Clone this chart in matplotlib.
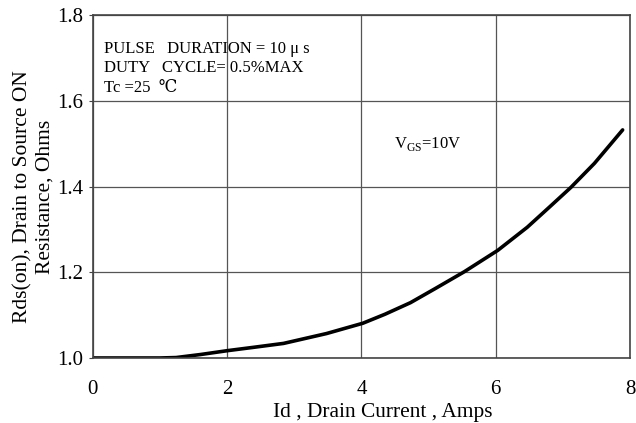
import numpy as np
import matplotlib
matplotlib.use('Agg')
import matplotlib.pyplot as plt

plt.rcParams['font.family'] = ['Liberation Serif', 'DejaVu Serif']

# values
id_amps = [0.0, 0.5, 1.0, 1.24, 1.6, 2.0, 2.4, 2.84, 3.48, 4.02, 4.35, 4.73, 5.1, 5.53,
           6.03, 6.47, 6.8, 7.12, 7.47, 7.89]
rds_on = [1.0, 1.0, 1.0, 1.001, 1.008, 1.017, 1.025, 1.034, 1.057, 1.081, 1.102, 1.129, 1.162, 1.201,
          1.251, 1.305, 1.352, 1.398, 1.454, 1.532]
x_ticks = [0, 2, 4, 6, 8]
y_ticks = [1.0, 1.2, 1.4, 1.6, 1.8]

fig = plt.figure(figsize=(6.36, 4.23), dpi=100)
ax = fig.add_axes([0.146, 0.1537, 0.8446, 0.8108])

ax.plot(id_amps, rds_on, color='black', linewidth=2.6, solid_capstyle='round', solid_joinstyle='round')

ax.set_xlim(0, 8)
ax.set_ylim(1.0, 1.8)
ax.set_xticks(x_ticks)
ax.set_yticks(y_ticks)
ax.set_yticklabels([f'{v:.1f}' for v in y_ticks])
ax.grid(True, color='#555555', linewidth=0.9)
ax.tick_params(axis='both', labelsize=15, length=3, color='#444444')
ax.tick_params(axis='x', length=0, pad=16)
ax.tick_params(axis='y', pad=4)
for s in ax.spines.values():
    s.set_color('#444444')
    s.set_linewidth(1.2)

ax.set_xlabel('Id , Drain Current , Amps', fontsize=15.4)
ax.xaxis.set_label_coords(0.54, -0.13)
ax.set_ylabel('Rds(on), Drain to Source ON\nResistance, Ohms', fontsize=15.5,
              multialignment='center')
ax.yaxis.set_label_coords(-0.072, 0.47)

ax.text(0.02, 0.90, 'PULSE   DURATION = 10 μ s', transform=ax.transAxes, fontsize=12, va='center')
ax.text(0.02, 0.845, 'DUTY   CYCLE= 0.5%MAX', transform=ax.transAxes, fontsize=12, va='center')
ax.text(0.02, 0.787, 'Tc =25  ℃', transform=ax.transAxes, fontsize=12, va='center')
ax.text(0.56, 0.625, r'V$_{\mathregular{GS}}$=10V', transform=ax.transAxes, fontsize=12, va='center')

fig.savefig('out.png', dpi=100)
